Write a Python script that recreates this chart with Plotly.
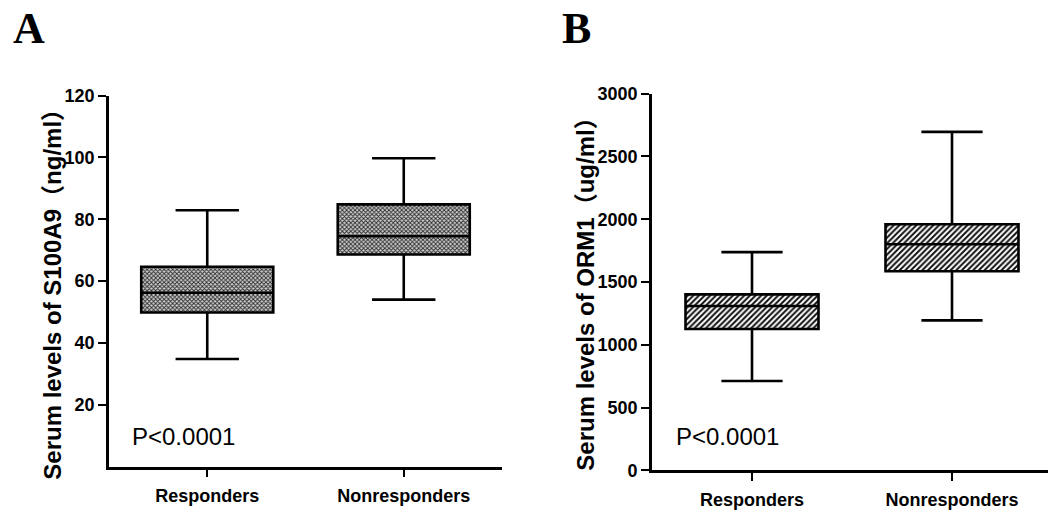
import plotly.graph_objects as go

categories = ["Responders", "Nonresponders"]

# Panel A: S100A9 (ng/ml)
a_q1 = [49.8, 68.6]
a_median = [56.2, 74.5]
a_q3 = [64.6, 84.8]
a_low = [34.8, 54.0]
a_high = [82.9, 99.7]
a_ticks = [20, 40, 60, 80, 100, 120]

# Panel B: ORM1 (ug/ml)
b_q1 = [1126, 1585]
b_median = [1309, 1800]
b_q3 = [1401, 1960]
b_low = [712, 1194]
b_high = [1738, 2695]
b_ticks = [0, 500, 1000, 1500, 2000, 2500, 3000]

W, H = 1048, 514
def px(x):
    return x / W
def py(y):
    return (H - y) / H

SANS = "Liberation Sans, Arial, Noto Sans CJK SC"

fig = go.Figure()

# Panel A pattern fill (checkered)
fig.add_trace(go.Bar(
    x=categories, y=[h - l for h, l in zip(a_q3, a_q1)], base=a_q1,
    width=0.672, xaxis="x", yaxis="y", hoverinfo="skip", showlegend=False,
    marker=dict(color="#999999", line=dict(width=0),
                pattern=dict(shape="x", size=3, solidity=0.5,
                             fgcolor="#2a2a2a", bgcolor="#d0d0d0", fillmode="replace")),
))
fig.add_trace(go.Box(
    x=categories, q1=a_q1, median=a_median, q3=a_q3,
    lowerfence=a_low, upperfence=a_high,
    width=0.672, whiskerwidth=0.48, boxpoints=False,
    fillcolor="rgba(0,0,0,0)", line=dict(color="black", width=2.6),
    xaxis="x", yaxis="y", showlegend=False, hoverinfo="skip",
))

# Panel B pattern fill (diagonal hatch)
fig.add_trace(go.Bar(
    x=categories, y=[h - l for h, l in zip(b_q3, b_q1)], base=b_q1,
    width=0.665, xaxis="x2", yaxis="y2", hoverinfo="skip", showlegend=False,
    marker=dict(color="white", line=dict(width=0),
                pattern=dict(shape="/", size=4, solidity=0.5,
                             fgcolor="#111111", bgcolor="white", fillmode="replace")),
))
fig.add_trace(go.Box(
    x=categories, q1=b_q1, median=b_median, q3=b_q3,
    lowerfence=b_low, upperfence=b_high,
    width=0.665, whiskerwidth=0.46, boxpoints=False,
    fillcolor="rgba(0,0,0,0)", line=dict(color="black", width=2.6),
    xaxis="x2", yaxis="y2", showlegend=False, hoverinfo="skip",
))

axis_common = dict(showline=True, linecolor="black", linewidth=2.6,
                   ticks="outside", ticklen=8, tickwidth=2.4, tickcolor="black",
                   showgrid=False, zeroline=False)
tickf = dict(family=SANS, size=18, color="black", weight="bold")

fig.update_layout(
    width=W, height=H,
    margin=dict(l=0, r=0, t=0, b=0),
    paper_bgcolor="white", plot_bgcolor="white",
    barmode="overlay", boxmode="overlay",
    xaxis=dict(domain=[px(109), px(502)], range=[-0.5, 1.5], anchor="y",
               type="category", tickfont=tickf, ticklabelstandoff=3, **axis_common),
    yaxis=dict(domain=[py(475), py(89)], range=[0, 120], anchor="x",
               tickvals=a_ticks, ticktext=[str(t) for t in a_ticks],
               tickfont=tickf, **axis_common),
    xaxis2=dict(domain=[px(652), 1.0], range=[-0.5, 1.48], anchor="y2",
                type="category", tickfont=tickf, ticklabelstandoff=3, **axis_common),
    yaxis2=dict(domain=[py(479), py(87)], range=[0, 3000], anchor="x2",
                tickvals=b_ticks, ticktext=[str(t) for t in b_ticks],
                tickfont=tickf, **axis_common),
)

annotations = [
    dict(text="<b>A</b>", x=px(11), y=py(19), xanchor="left", yanchor="middle",
         font=dict(family="Liberation Serif, Times New Roman", size=44, color="black")),
    dict(text="<b>B</b>", x=px(560), y=py(19), xanchor="left", yanchor="middle",
         font=dict(family="Liberation Serif, Times New Roman", size=44, color="black")),
    dict(text="P<0.0001", x=px(130), y=py(444), xanchor="left", yanchor="middle",
         font=dict(family=SANS, size=24, color="black")),
    dict(text="P<0.0001", x=px(674), y=py(444), xanchor="left", yanchor="middle",
         font=dict(family=SANS, size=24, color="black")),
    dict(text="<b>Serum levels of S100A9（ng/ml）</b>", x=px(53), y=py(290),
         xanchor="center", yanchor="middle", textangle=-90,
         font=dict(family=SANS, size=24, color="black")),
    dict(text="<b>Serum levels of ORM1（ug/ml）</b>", x=px(586), y=py(290),
         xanchor="center", yanchor="middle", textangle=-90,
         font=dict(family=SANS, size=24, color="black")),
]
for a in annotations:
    a.update(xref="paper", yref="paper", showarrow=False)
fig.update_layout(annotations=annotations)

fig.write_html("out.html",
               config={"displayModeBar": False},
               post_script="document.body.style.margin='0';document.body.style.overflow='hidden';")
